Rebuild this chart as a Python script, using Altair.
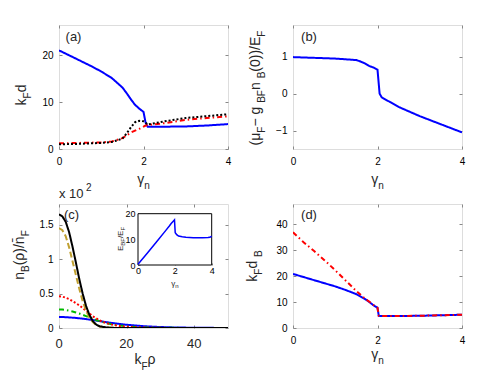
import altair as alt
import pandas as pd

FONT = "Liberation Sans"
TXT = "#262626"
PW, PH = 169, 124
TICK_FS = 13

# ---------------- data ----------------
# (a) k_F d vs gamma_n
a_gam = [0.0, 0.25, 0.5, 0.75, 1.0, 1.25, 1.5, 1.6, 1.7, 1.8, 1.9, 2.0, 2.05, 2.1, 2.5, 3.0, 3.5, 4.0]
a_blue = [21.0, 19.9, 18.8, 17.7, 16.5, 15.1, 13.1, 11.9, 10.6, 9.4, 8.6, 7.9, 5.6, 4.75, 4.75, 4.8, 5.0, 5.3]
a_red = [1.2, 1.25, 1.3, 1.35, 1.4, 1.6, 2.3, 2.9, 3.5, 3.9, 4.3, 4.75, 5.0, 5.1, 5.5, 6.2, 6.6, 6.95]
a_black = [1.0, 1.05, 1.1, 1.2, 1.3, 1.5, 2.2, 3.3, 4.6, 5.7, 6.0, 5.9, 5.6, 5.2, 5.9, 6.6, 7.0, 7.4]

# (b) (mu_F - g_BF n_B(0))/E_F vs gamma_n
b_gam = [0.0, 0.5, 1.0, 1.25, 1.5, 1.6, 1.7, 1.8, 1.9, 2.0, 2.05, 2.1, 2.3, 2.5, 3.0, 3.5, 4.0]
b_blue = [0.99, 0.97, 0.95, 0.93, 0.91, 0.87, 0.82, 0.75, 0.71, 0.65, 0.0, -0.1, -0.23, -0.36, -0.61, -0.83, -1.05]

# (c) n_B(rho)/n_F (x 10^2) vs k_F rho
c_rho = [0, 1, 2, 3, 4, 5, 6, 7, 8, 9, 10, 11, 12, 14, 16, 18, 20, 25, 30, 35, 40, 45, 50]
c_blue = [0.16, 0.159, 0.157, 0.154, 0.15, 0.146, 0.141, 0.135, 0.129, 0.122, 0.115, 0.108, 0.1,
          0.085, 0.071, 0.058, 0.047, 0.026, 0.014, 0.007, 0.004, 0.002, 0.001]
c_green = [0.27, 0.268, 0.262, 0.252, 0.24, 0.226, 0.21, 0.192, 0.173, 0.154, 0.135, 0.117, 0.1,
           0.072, 0.05, 0.035, 0.024, 0.009, 0.004, 0.002, 0.001, 0.0, 0.0]
c_red = [0.46, 0.455, 0.44, 0.42, 0.39, 0.36, 0.33, 0.29, 0.25, 0.21, 0.17, 0.14, 0.11,
         0.07, 0.045, 0.028, 0.018, 0.006, 0.002, 0.001, 0.0, 0.0, 0.0]
c_gold = [1.45, 1.42, 1.33, 1.17, 0.97, 0.77, 0.57, 0.39, 0.25, 0.15, 0.085, 0.045, 0.022,
          0.007, 0.002, 0.0, 0.0, 0.0, 0.0, 0.0, 0.0, 0.0, 0.0]
c_black = [1.65, 1.62, 1.54, 1.39, 1.18, 0.95, 0.71, 0.5, 0.32, 0.19, 0.1, 0.05, 0.025,
           0.008, 0.002, 0.0, 0.0, 0.0, 0.0, 0.0, 0.0, 0.0, 0.0]

# inset of (c): E_BF/E_F vs gamma_n
i_gam = [0.0, 0.5, 1.0, 1.5, 1.7, 1.8, 1.9, 1.98, 2.02, 2.1, 2.2, 2.4, 2.6, 3.0, 3.5, 3.8, 3.9, 4.0]
i_ebf = [0.3, 4.6, 9.0, 13.4, 15.2, 16.2, 17.0, 17.6, 12.6, 11.8, 11.3, 11.0, 10.8, 10.6, 10.6, 10.7, 10.8, 11.2]

# (d) k_F d_B vs gamma_n
d_gam_b = [0.0, 0.5, 1.0, 1.25, 1.5, 1.7, 1.8, 1.9, 2.0, 2.03, 2.1, 2.5, 3.0, 3.5, 4.0]
d_blue = [20.8, 18.4, 16.0, 14.6, 13.0, 11.2, 10.1, 8.8, 7.8, 4.7, 4.6, 4.6, 4.7, 4.9, 5.1]
d_gam_r = [0.0, 0.25, 0.5, 0.75, 1.0, 1.25, 1.5, 1.7, 1.8, 1.9, 2.0, 2.03, 2.1, 2.5, 3.0, 3.5, 4.0]
d_red = [36.8, 33.0, 29.6, 26.0, 22.2, 18.2, 14.2, 11.3, 10.2, 8.9, 7.8, 4.7, 4.6, 4.6, 4.7, 4.9, 5.1]

# axis ticks
gam_ticks = [0, 2, 4]
a_yticks = [0, 10, 20]
b_yticks = [-1, 0, 1]
c_xticks = [0, 20, 40]
c_yticks = [0, 0.5, 1, 1.5]
d_yticks = [0, 10, 20, 30, 40]
i_yticks = [0, 10, 20]

# line styles (one global mapping, series names unique per panel)
STYLE = {
    "a_blue": ("#0000ff", [1, 0]), "a_red": ("#ff0000", [5, 3, 1.5, 3]), "a_black": ("#000000", [2, 2]),
    "b_blue": ("#0000ff", [1, 0]),
    "c_blue": ("#0000ff", [1, 0]), "c_green": ("#00bb00", [5, 3, 1.5, 3]), "c_red": ("#ff0000", [2, 2]),
    "c_gold": ("#c0a030", [6, 3]), "c_black": ("#000000", [1, 0]),
    "d_blue": ("#0000ff", [1, 0]), "d_red": ("#ff0000", [5, 3, 1.5, 3]),
}
S_NAMES = list(STYLE)
S_COLORS = [STYLE[k][0] for k in S_NAMES]
S_DASHES = [STYLE[k][1] for k in S_NAMES]


def long(series):
    rows = []
    for name, xs, ys in series:
        for i, (xv, yv) in enumerate(zip(xs, ys)):
            rows.append({"s": name, "x": xv, "y": yv, "i": i})
    return pd.DataFrame(rows)


DUMMY = pd.DataFrame({"t": [0]})

W_EM = {'k': .5, 'd': .556, 'n': .556, 'g': .556, 'E': .667, 'F': .611, 'B': .667, '(': .333,
        ')': .333, '/': .278, '0': .556, ' ': .278, '\u2212': .584, 'μ': .576, 'ρ': .578,
        'γ': .5, 'x': .5, '1': .556, '2': .556, '\u0304': 0.0}


def tw(s, size):
    return sum(W_EM.get(c, .556) for c in s) * size


def txt(s, x, y, size, angle=0, align="left", baseline="alphabetic"):
    return alt.Chart(DUMMY).mark_text(
        text=s, font=FONT, fontSize=size, color=TXT, align=align,
        baseline=baseline, angle=angle
    ).encode(x=alt.value(x), y=alt.value(y))


def rich(pieces, ax, ay, origin, vertical=False, center=True):
    total = sum(tw(t, sz) for t, sz, sh in pieces)
    pos = -total / 2 if center else 0
    out = []
    for t, sz, sh in pieces:
        if vertical:
            out.append(txt(t, ax + sh - origin[0], ay - pos - origin[1], sz, angle=270))
        else:
            out.append(txt(t, ax + pos - origin[0], ay + sh - origin[1], sz))
        pos += tw(t, sz)
    return out


def panel(df, xdom, ydom, xvals, yvals, extra=(), xfmt="d", yfmt="d", xlabels=True):
    xs = alt.Scale(domain=xdom, nice=False, zero=False)
    ys = alt.Scale(domain=ydom, nice=False, zero=False)
    main = alt.Chart(df).mark_line(strokeWidth=2, clip=True).encode(
        x=alt.X("x:Q", scale=xs, axis=alt.Axis(
            values=xvals, orient="bottom", offset=-3, tickSize=3, domain=False,
            labelPadding=7, title=None, format=xfmt, grid=False, labelFlush=False,
            labelOverlap=False, labels=xlabels)),
        y=alt.Y("y:Q", scale=ys, axis=alt.Axis(
            values=yvals, orient="left", offset=-3, tickSize=3, domain=False,
            labelPadding=6, title=None, format=yfmt, grid=False, labelOverlap=False)),
        color=alt.Color("s:N", scale=alt.Scale(domain=S_NAMES, range=S_COLORS), legend=None),
        strokeDash=alt.StrokeDash("s:N", scale=alt.Scale(domain=S_NAMES, range=S_DASHES), legend=None),
        order="i:Q",
    )
    ghost = alt.Chart(df).mark_line(opacity=0).encode(
        x=alt.X("x:Q", scale=xs, axis=alt.Axis(
            values=xvals, orient="top", offset=-3, tickSize=3, domain=False,
            labels=False, title=None, grid=False)),
        y=alt.Y("y:Q", scale=ys, axis=alt.Axis(
            values=yvals, orient="right", offset=-3, tickSize=3, domain=False,
            labels=False, title=None, grid=False)),
    )
    return alt.layer(main, ghost, *extra).resolve_scale(x="independent", y="independent").properties(
        width=PW, height=PH)


# ---------------- panel (a) ----------------
OA = (60, 24)
dfa = long([("a_blue", a_gam, a_blue), ("a_red", a_gam, a_red), ("a_black", a_gam, a_black)])
ta = [txt("(a)", 74.5 - OA[0], 36 - OA[1], 13, align="center", baseline="middle")]
ta += rich([("γ", 14, 0), ("n", 10, 5)], 144.5, 183, OA)
ta += rich([("k", 14, 0), ("F", 10, 5), (" d", 14, 0)], 27, 92, OA, vertical=True)
pa = panel(dfa, [0, 4], [0, 26.4], gam_ticks, a_yticks, ta)

# ---------------- panel (b) ----------------
OB = (294, 24)
dfb = long([("b_blue", b_gam, b_blue)])
tb = [txt("(b)", 310 - OB[0], 36 - OB[1], 13, align="center", baseline="middle")]
tb += rich([("γ", 14, 0), ("n", 10, 5)], 378.5, 183, OB)
tb += rich([("(μ", 14, 0), ("F", 10, 5), (" \u2212 g", 14, 0), ("BF", 10, 5), (" n", 14, 0),
            ("B", 10, 5), ("(0))/E", 14, 0), ("F", 10, 5)], 261, 87, OB, vertical=True)
pb = panel(dfb, [0, 4], [-1.5, 1.86], gam_ticks, b_yticks, tb)

# ---------------- panel (c) ----------------
OC = (60, 203)
dfc = long([("c_blue", c_rho, c_blue), ("c_green", c_rho, c_green), ("c_red", c_rho, c_red),
            ("c_gold", c_rho, c_gold), ("c_black", c_rho, c_black)])
C_XDOM = [0, 50]

IX0, IX1, IY0, IY1 = 139 - OC[0], 212.7 - OC[0], 264 - OC[1], 212.7 - OC[1]
ixs = alt.Scale(domain=[0, 4], range=[IX0, IX1], nice=False, zero=False)
iys = alt.Scale(domain=[0, 20], range=[IY0, IY1], nice=False, zero=False)
ixaxis = alt.Axis(values=gam_ticks, orient="bottom", offset=-(PH - IY0) - 2, tickSize=2,
                  domain=False, labelPadding=1, labelFontSize=9, title=None, grid=False,
                  labelFlush=False, format="d", labelOverlap=False)
iyaxis = alt.Axis(values=i_yticks, orient="left", offset=-IX0 - 2, tickSize=2, domain=False,
                  labelPadding=3, labelFontSize=9, title=None, grid=False, format="d",
                  labelOverlap=False)
box_df = pd.DataFrame({"bx0": [0], "bx1": [4], "by0": [0], "by1": [20]})
inset_box = alt.Chart(box_df).mark_rect(fill="white", stroke="black", strokeWidth=1).encode(
    x=alt.X("bx0:Q", scale=ixs, axis=ixaxis), x2="bx1:Q",
    y=alt.Y("by0:Q", scale=iys, axis=iyaxis), y2="by1:Q")
inset_line = alt.Chart(pd.DataFrame({"gx": i_gam, "gy": i_ebf, "gi": list(range(len(i_gam)))})).mark_line(
    color="#0000ff", strokeWidth=1.5).encode(
    x=alt.X("gx:Q", scale=ixs, axis=None), y=alt.Y("gy:Q", scale=iys, axis=None), order="gi:Q")

# x tick labels of (c), each placed where the panel's linear x scale puts its tick
c_ticklabels = [txt(str(v), (v - C_XDOM[0]) / (C_XDOM[1] - C_XDOM[0]) * PW, PH + 20, TICK_FS,
                    align="center") for v in c_xticks]

tc = [inset_box, inset_line] + c_ticklabels
tc += [txt("(c)", 72.5 - OC[0], 213.5 - OC[1], 13, align="center", baseline="middle")]
tc += rich([("k", 14, 0), ("F", 10, 6), ("ρ", 14, 0)], 146, 363, OC)
tc += rich([("n", 14, 0), ("B", 10, 5), ("(ρ)/n\u0304", 14, 0), ("F", 10, 5)], 25, 254, OC,
           vertical=True)
tc += [txt("x 10", 60 - OC[0], 197 - OC[1], 13), txt("2", 87 - OC[0], 190 - OC[1], 10)]
tc += rich([("E", 8, 0), ("BF", 6, 2), ("/E", 8, 0), ("F", 6, 2)], 124, 238, OC, vertical=True)
tc += rich([("γ", 8, 0), ("n", 6, 2)], 176, 285, OC)
pc = panel(dfc, C_XDOM, [0, 1.8], c_xticks, c_yticks, tc, xfmt="d", yfmt=".1~f", xlabels=False)

# ---------------- panel (d) ----------------
OD = (294, 203)
dfd = long([("d_blue", d_gam_b, d_blue), ("d_red", d_gam_r, d_red)])
td = [txt("(d)", 310 - OD[0], 213.5 - OD[1], 13, align="center", baseline="middle")]
td += rich([("γ", 14, 0), ("n", 10, 5)], 378.5, 358, OD)
td += rich([("k", 14, 0), ("F", 10, 5), (" d", 14, 0), ("B", 10, 5)], 258, 265, OD, vertical=True)
pd_ = panel(dfd, [0, 4], [0, 47.7], gam_ticks, d_yticks, td)

chart = alt.concat(pa, pb, pc, pd_, columns=2, spacing={"row": 55, "column": 65},
                   bounds="flush").properties(
    padding={"left": 4, "top": 16, "right": 5, "bottom": 5}
).configure_view(stroke="black", strokeWidth=1).configure_axis(
    labelFont=FONT, labelFontSize=TICK_FS, labelColor=TXT, tickColor="black", tickWidth=1
).configure(background="white")

chart.save("out.html", embed_options={"renderer": "svg", "actions": False})
